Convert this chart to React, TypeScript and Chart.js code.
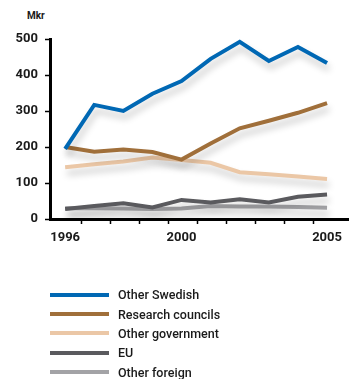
import React, { useEffect, useRef } from 'react';
import { Chart, registerables } from 'chart.js';

Chart.register(...registerables);

const years = [1996, 1997, 1998, 1999, 2000, 2001, 2002, 2003, 2004, 2005];
const otherSwedish = [195, 317, 300, 348, 383, 445, 492, 439, 478, 433];
const researchCouncils = [200, 187, 193, 186, 165, 210, 252, 273, 295, 322];
const otherGovernment = [144, 152, 160, 171, 164, 156, 130, 124, 118, 111];
const eu = [28, 36, 44, 32, 53, 46, 55, 46, 62, 68];
const otherForeign = [30, 30, 29, 28, 29, 36, 35, 35, 33, 31];

const seriesNames = ['Other Swedish', 'Research councils', 'Other government', 'EU', 'Other foreign'];
const seriesColors = ['#0068b4', '#a06f3a', '#ebc7a6', '#5a5a5e', '#a3a3a6'];
const seriesValues = [otherSwedish, researchCouncils, otherGovernment, eu, otherForeign];

const labeledYears = [1996, 2000, 2005];
const yTickValues = [0, 100, 200, 300, 400, 500];
const unitLabel = 'Mkr';

const FONT = 'Roboto, "DejaVu Sans", sans-serif';

const shadowPlugin = {
  id: 'lineShadow',
  beforeDatasetsDraw(chart: any) {
    const ctx = chart.ctx;
    ctx.save();
    ctx.shadowColor = 'rgba(0,0,0,0.22)';
    ctx.shadowBlur = 7;
    ctx.shadowOffsetX = 2;
    ctx.shadowOffsetY = 6;
  },
  afterDatasetsDraw(chart: any) {
    chart.ctx.restore();
  },
};

export default function App() {
  const canvasRef = useRef<HTMLCanvasElement | null>(null);

  useEffect(() => {
    if (!canvasRef.current) return;
    const chart = new Chart(canvasRef.current, {
      type: 'line',
      data: {
        datasets: seriesNames.map((name, i) => ({
          label: name,
          data: years.map((y, j) => ({ x: y, y: seriesValues[i][j] })),
          borderColor: seriesColors[i],
          backgroundColor: seriesColors[i],
          borderWidth: 4,
          pointRadius: 0,
          tension: 0,
          borderJoinStyle: 'miter' as const,
        })),
      },
      options: {
        animation: false,
        responsive: false,
        maintainAspectRatio: false,
        layout: { padding: { top: 39, right: 5, left: 0, bottom: 0 } },
        plugins: {
          legend: { display: false },
          tooltip: { enabled: false },
        },
        scales: {
          x: {
            type: 'linear',
            min: 1995.48,
            max: 2005.72,
            afterBuildTicks(scale: any) {
              const t: any[] = [];
              for (let y = years[0]; y <= years[years.length - 1]; y++) {
                t.push({ value: y });
                if (y < years[years.length - 1]) t.push({ value: y + 0.55 });
              }
              scale.ticks = t;
            },
            afterFit(scale: any) {
              scale.height = 30;
            },
            border: { display: true, color: '#000', width: 3 },
            grid: {
              drawOnChartArea: false,
              tickLength: 5,
              tickWidth: 1.5,
              tickColor: (c: any) =>
                c.tick && Math.round(c.tick.value) !== c.tick.value ? '#000' : 'rgba(0,0,0,0)',
            },
            ticks: {
              autoSkip: false,
              maxRotation: 0,
              padding: 6,
              color: '#1a1a1a',
              font: { family: FONT, size: 13, weight: 'bold' },
              callback: (v: any) => (labeledYears.includes(Number(v)) ? String(v) : ''),
            },
          },
          y: {
            type: 'linear',
            min: 0,
            max: 500,
            afterBuildTicks(scale: any) {
              scale.ticks = yTickValues.map((v) => ({ value: v }));
            },
            afterFit(scale: any) {
              scale.width = 50;
            },
            border: { display: true, color: '#000', width: 3 },
            grid: {
              drawOnChartArea: false,
              tickLength: 5,
              tickWidth: 1.5,
              tickColor: '#000',
            },
            ticks: {
              padding: 7,
              color: '#1a1a1a',
              font: { family: FONT, size: 13, weight: 'bold' },
            },
          },
        },
      } as any,
      plugins: [shadowPlugin],
    });
    return () => chart.destroy();
  }, []);

  return (
    <div
      style={{
        position: 'fixed',
        left: 0,
        top: 0,
        width: 353,
        height: 379,
        background: '#fff',
        fontFamily: FONT,
      }}
    >
      <div
        style={{
          position: 'absolute',
          left: 27,
          top: 10,
          fontSize: 10,
          fontWeight: 'bold',
          color: '#1a1a1a',
        }}
      >
        {unitLabel}
      </div>
      <canvas
        ref={canvasRef}
        width={353}
        height={249}
        style={{ position: 'absolute', left: 0, top: 0, width: 353, height: 249 }}
      />
      <div style={{ position: 'absolute', left: 50, top: 285 }}>
        {seriesNames.map((name, i) => (
          <div
            key={name}
            style={{ display: 'flex', alignItems: 'center', height: 19.4 }}
          >
            <div style={{ width: 59, height: 4, background: seriesColors[i] }} />
            <div
              style={{
                marginLeft: 9,
                fontSize: 12.5,
                fontWeight: 500,
                color: '#1a1a1a',
                whiteSpace: 'nowrap',
              }}
            >
              {name}
            </div>
          </div>
        ))}
      </div>
    </div>
  );
}
